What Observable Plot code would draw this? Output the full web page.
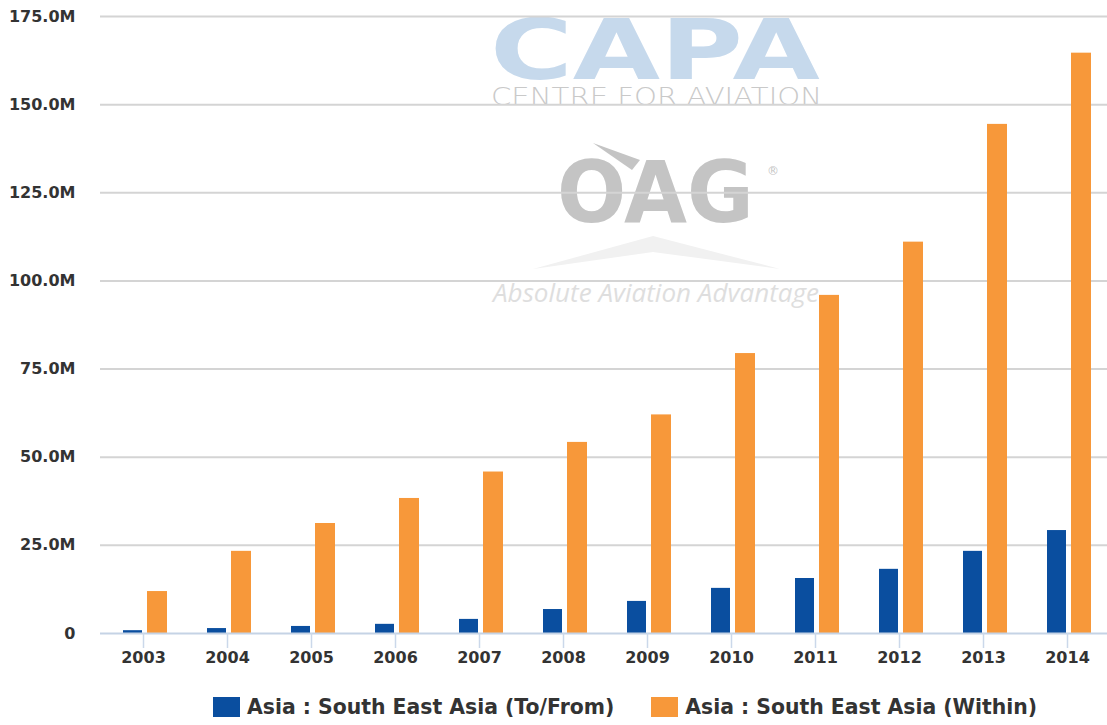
<!DOCTYPE html>
<html>
<head>
<meta charset="utf-8">
<script src="https://cdn.jsdelivr.net/npm/d3@7"></script>
<script src="https://cdn.jsdelivr.net/npm/@observablehq/plot@0.6"></script>
<style>
  html, body { margin: 0; padding: 0; background: #fff; }
  #wrap { position: relative; width: 1107px; height: 725px; overflow: hidden; font-family: "DejaVu Sans", Verdana, sans-serif; }
  #wm { position: absolute; left: 0; top: 0; z-index: 0; }
  #chart { position: absolute; left: 0; top: 0; z-index: 1; }
  #chart svg { background: transparent !important; }
  #legend { position: absolute; left: 213px; top: 695px; z-index: 1; display: flex; align-items: center; font-weight: bold; font-size: 20.4px; color: #333; white-space: nowrap; }
  .sw { display: inline-block; width: 27px; height: 20px; margin-right: 7px; }
  .item { display: flex; align-items: center; margin-right: 37px; }
</style>
</head>
<body>
<div id="wrap">
  <svg id="wm" width="1107" height="725" xmlns="http://www.w3.org/2000/svg">
    <text x="490" y="79" font-family="DejaVu Sans" font-weight="bold" font-size="84" fill="#c6d9ec" textLength="330" lengthAdjust="spacingAndGlyphs">CAPA</text>
    <text x="491" y="105" font-family="DejaVu Sans" font-weight="200" font-size="25" fill="#c9c9c9" textLength="331" lengthAdjust="spacingAndGlyphs">CENTRE FOR AVIATION</text>
    <path d="M593,143 L640,160 L632,170 Z" fill="#c4c4c4"/>
    <text x="557" y="222" font-family="DejaVu Sans" font-weight="bold" font-size="85" fill="#c4c4c4" textLength="197" lengthAdjust="spacingAndGlyphs">OAG</text>
    <text x="767" y="175" font-family="DejaVu Sans" font-size="12" fill="#c4c4c4">®</text>
    <path d="M533,269 L653,236 L780,269 L653,252 Z" fill="#f1f1f1"/>
    <text x="493" y="302" font-family="Open Sans, DejaVu Sans" font-style="italic" font-size="26" fill="#dedede" textLength="326" lengthAdjust="spacingAndGlyphs">Absolute Aviation Advantage</text>
  </svg>
  <div id="chart"></div>
  <div id="legend">
    <div class="item"><span class="sw" style="background:#0a4e9f"></span>Asia : South East Asia (To/From)</div>
    <div class="item"><span class="sw" style="background:#f7983a"></span>Asia : South East Asia (Within)</div>
  </div>
</div>
<script>
const years = ["2003","2004","2005","2006","2007","2008","2009","2010","2011","2012","2013","2014"];
// millions of seats
const toFrom = [0.8, 1.4, 2.0, 2.6, 4.0, 6.8, 9.1, 12.8, 15.6, 18.2, 23.3, 29.2];
const within = [11.9, 23.3, 31.2, 38.3, 45.8, 54.2, 62.0, 79.4, 95.9, 111.0, 144.4, 164.6];
const yTicks = [0, 25, 50, 75, 100, 125, 150, 175];
const seriesNames = ["Asia : South East Asia (To/From)", "Asia : South East Asia (Within)"];
const seriesColors = ["#0a4e9f", "#f7983a"];

const data = years.map((y, i) => ({year: y, toFrom: toFrom[i], within: within[i]}));

const chart = Plot.plot({
  width: 1107,
  height: 680,
  marginTop: 16,
  marginBottom: 47,
  marginLeft: 100,
  marginRight: 0,
  style: {fontFamily: "'DejaVu Sans', Verdana, sans-serif", fontSize: "16px", fontWeight: "bold", background: "transparent", color: "#333"},
  x: {domain: years, range: [100, 1110], padding: 0, label: null},
  y: {domain: [0, 175], label: null},
  marks: [
    Plot.gridY(yTicks.filter(d => d > 0), {stroke: "#d4d4d4", strokeOpacity: 1, strokeWidth: 2}),
    Plot.barY(data, {x: "year", y: "toFrom", fill: seriesColors[0], insetLeft: 22, insetRight: 43, title: d => seriesNames[0] + " " + d.year}),
    Plot.barY(data, {x: "year", y: "within", fill: seriesColors[1], insetLeft: 46, insetRight: 18, title: d => seriesNames[1] + " " + d.year}),
    Plot.ruleY([0], {stroke: "#c5d3e5", strokeWidth: 2}),
    Plot.axisX({tickSize: 15, tickFormat: () => "", color: "#cbd8ea", strokeWidth: 1.5}),
    Plot.axisX({tickSize: 0, tickPadding: 18, color: "#333", fontWeight: "bold", fontSize: 16}),
    Plot.axisY(yTicks, {tickSize: 0, tickPadding: 25, color: "#333", fontWeight: "bold", fontSize: 16,
      tickFormat: d => d === 0 ? "0" : d.toFixed(1) + "M"})
  ]
});
document.getElementById("chart").appendChild(chart);
</script>
</body>
</html>
